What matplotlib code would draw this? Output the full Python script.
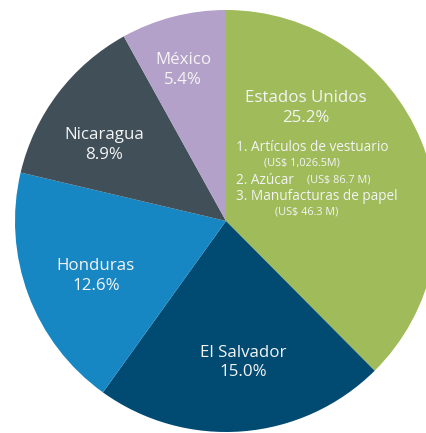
import matplotlib
matplotlib.use("Agg")
import matplotlib.pyplot as plt

plt.rcParams['font.family'] = ['Open Sans', 'DejaVu Sans']

countries = ["Estados Unidos", "El Salvador", "Honduras", "Nicaragua", "México"]
shares = [25.2, 15.0, 12.6, 8.9, 5.4]
colors = ["#9fbb5a", "#014a72", "#1787c4", "#414f59", "#b3a1c9"]

us_products = ["1. Artículos de vestuario", "2. Azúcar", "3. Manufacturas de papel"]
us_values = ["(US$ 1,026.5M)", "(US$ 86.7 M)", "(US$ 46.3 M)"]

W, H = 427, 433
fig = plt.figure(figsize=(W / 100, H / 100), dpi=100)
ax = fig.add_axes([0, 0, 1, 1])

# pie geometry in pixel coords (y measured from bottom)
cx, cy, r = 226, H - 221, 211
ax.pie(shares, colors=colors, startangle=90, counterclock=False,
       center=(cx, cy), radius=r, frame=True,
       wedgeprops=dict(edgecolor="none"))
ax.set_xlim(0, W)
ax.set_ylim(0, H)
ax.set_aspect("equal")
ax.axis("off")

def px(x, y):
    return x, H - y

tc = "#f4f4f4"
# label centres (pixel, top origin)
label_pos = {
    "Estados Unidos": (306, 98),
    "El Salvador": (243, 353),
    "Honduras": (96, 266),
    "Nicaragua": (104, 135),
    "México": (183, 60),
}
for name, s in zip(countries, shares):
    x, y = label_pos[name]
    ax.text(*px(x, y), name, color=tc, fontsize=12.2, ha="center", va="center")
    ax.text(*px(x, y + 19.5), f"{s:.1f}%", color=tc, fontsize=12.2,
            ha="center", va="center")

# US product breakdown
prod_y = [147, 180, 196]
val_pos = [(264, 163), (307, 180), (275, 212)]
for p, yy in zip(us_products, prod_y):
    ax.text(*px(236, yy), p, color=tc, fontsize=9.8, ha="left", va="center")
for v, (vx, vy) in zip(us_values, val_pos):
    ax.text(*px(vx, vy), v, color=tc, fontsize=7.8, ha="left", va="center")

fig.savefig("out.png", dpi=100, facecolor="white")
